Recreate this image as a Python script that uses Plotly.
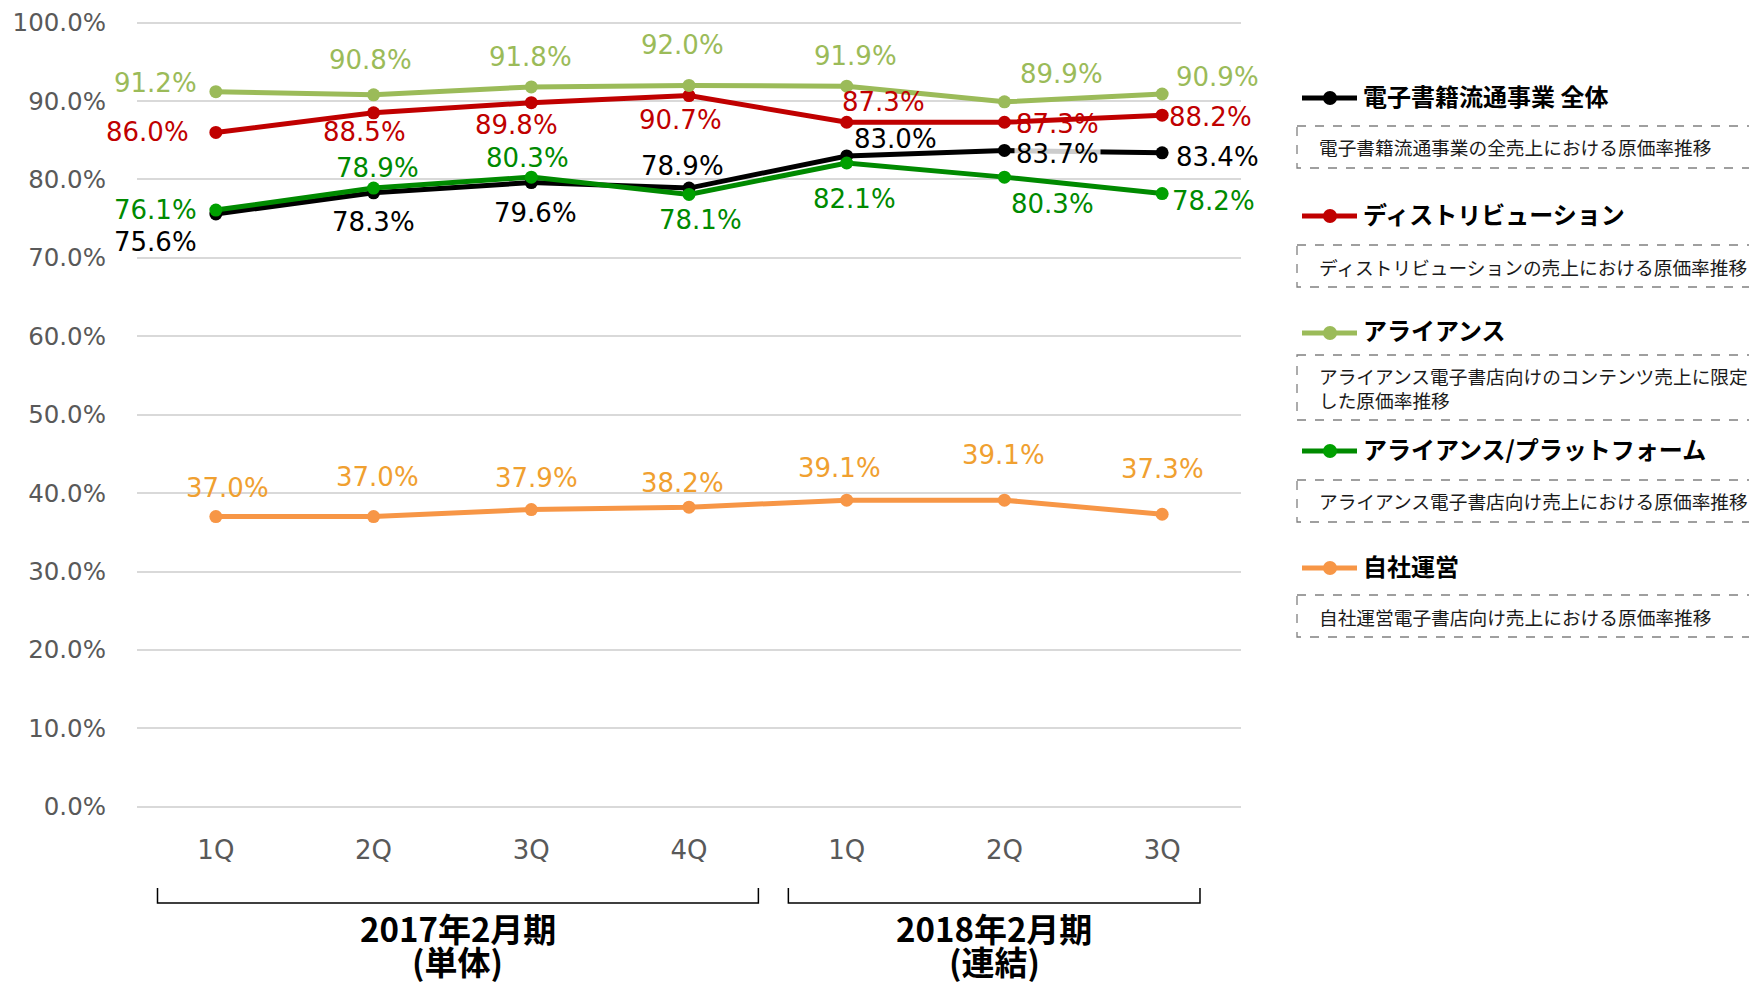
import plotly.graph_objects as go

# 四半期ごとの原価率推移 (%)
quarters = ["1Q", "2Q", "3Q", "4Q", "1Q", "2Q", "3Q"]
total = [75.6, 78.3, 79.6, 78.9, 83.0, 83.7, 83.4]
distribution = [86.0, 88.5, 89.8, 90.7, 87.3, 87.3, 88.2]
alliance = [91.2, 90.8, 91.8, 92.0, 91.9, 89.9, 90.9]
platform = [76.1, 78.9, 80.3, 78.1, 82.1, 80.3, 78.2]
own = [37.0, 37.0, 37.9, 38.2, 39.1, 39.1, 37.3]
y_ticks = [0, 10, 20, 30, 40, 50, 60, 70, 80, 90, 100]

series_names = ["電子書籍流通事業 全体", "ディストリビューション", "アライアンス",
                "アライアンス/プラットフォーム", "自社運営"]
series_notes = [
    "電子書籍流通事業の全売上における原価率推移",
    "ディストリビューションの売上における原価率推移",
    "アライアンス電子書店向けのコンテンツ売上に限定<br>した原価率推移",
    "アライアンス電子書店向け売上における原価率推移",
    "自社運営電子書店向け売上における原価率推移",
]
groups = ["2017年2月期", "2018年2月期"]
group_subs = ["(単体)", "(連結)"]
group_members = [[0, 1, 2, 3], [4, 5, 6]]

x = list(range(len(quarters)))
values = [total, distribution, alliance, platform, own]

line_colors = ["#000000", "#C00000", "#9BBB59", "#008A00", "#F79646"]
marker_colors = ["#000000", "#C00000", "#9BBB59", "#00A000", "#F79646"]
label_colors = ["#000000", "#C00000", "#9BBB59", "#008A00", "#F0A030"]

# label offsets in pixels (dx right, dy down) for each point
label_offsets = [
    [(-60, 28), (0, 29), (4, 30), (-7, -22), (49, -17), (53, 4), (55, 4)],
    [(-68, 0), (-9, 19), (-15, 22), (-9, 24), (37, -20), (53, 2), (48, 2)],
    [(-60, -9), (-3, -35), (-1, -30), (-7, -40), (9, -30), (57, -28), (55, -17)],
    [(-60, 0), (4, -20), (-4, -19), (11, 26), (8, 36), (48, 27), (51, 7)],
    [(12, -29), (4, -40), (5, -32), (-7, -24), (-7, -32), (-1, -45), (0, -45)],
]

# page has an 8px body margin, so screen px = figure px + 8
OFF = 8
W, H = 1757 - OFF, 983 - OFF
L, R, T, B = 137 - OFF, 1241 - OFF, 20 - OFF, 809 - OFF


def px_x(p):
    return (p - OFF - L) / (R - L)


def px_y(p):
    return (B - (p - OFF)) / (B - T)


fig = go.Figure()

for name, vals, lc, mc in zip(series_names, values, line_colors, marker_colors):
    fig.add_trace(go.Scatter(
        x=x, y=vals, mode="lines+markers", name=name,
        line=dict(color=lc, width=5),
        marker=dict(color=mc, size=13),
        showlegend=False, hoverinfo="skip",
    ))

annotations = []
for s, vals in enumerate(values):
    for i, v in enumerate(vals):
        dx, dy = label_offsets[s][i]
        bg = "rgba(255,255,255,0.8)" if (s == 0 and i == 5) else None
        annotations.append(dict(
            x=x[i], y=v, text=f"{v:.1f}%", showarrow=False,
            xshift=dx, yshift=-dy, xanchor="center", yanchor="middle",
            bgcolor=bg,
            font=dict(family="DejaVu Sans", size=26, color=label_colors[s]),
        ))

shapes = []

# group brackets under the x axis
bracket_pad = [(-0.37, 0.44), (-0.37, 0.24)]
for g, members in enumerate(group_members):
    x0 = members[0] + bracket_pad[g][0]
    x1 = members[-1] + bracket_pad[g][1]
    y_top, y_bot = px_y(888), px_y(903)
    shapes.append(dict(
        type="path", xref="x", yref="paper",
        path=f"M {x0},{y_top} L {x0},{y_bot} L {x1},{y_bot} L {x1},{y_top}",
        line=dict(color="#000000", width=1.5),
    ))
    xc = (x0 + x1) / 2
    annotations.append(dict(
        x=xc, y=px_y(928), xref="x", yref="paper", text=groups[g],
        showarrow=False, xanchor="center", yanchor="middle",
        font=dict(family="Noto Sans CJK JP", size=33, color="#000000", weight="bold"),
    ))
    annotations.append(dict(
        x=xc, y=px_y(961), xref="x", yref="paper", text=group_subs[g],
        showarrow=False, xanchor="center", yanchor="middle",
        font=dict(family="Noto Sans CJK JP", size=33, color="#000000", weight="bold"),
    ))

# custom legend on the right
title_y = [95, 213, 330, 448, 565]
box_y = [(126, 168), (245, 287), (355, 420), (480, 522), (595, 637)]
for k, name in enumerate(series_names):
    yc = title_y[k]
    shapes.append(dict(
        type="line", xref="paper", yref="paper",
        x0=px_x(1302), x1=px_x(1357), y0=px_y(yc + 3), y1=px_y(yc + 3),
        line=dict(color=line_colors[k], width=5),
    ))
    shapes.append(dict(
        type="circle", xref="paper", yref="paper",
        xsizemode="pixel", ysizemode="pixel",
        xanchor=px_x(1330), yanchor=px_y(yc + 3),
        x0=-7, x1=7, y0=-7, y1=7,
        fillcolor=marker_colors[k], line=dict(width=0),
    ))
    annotations.append(dict(
        x=px_x(1361), y=px_y(yc), xref="paper", yref="paper", text=name,
        showarrow=False, xanchor="left", yanchor="middle",
        font=dict(family="Noto Sans CJK JP", size=24, color="#000000", weight="bold"),
    ))
    y0, y1 = box_y[k]
    shapes.append(dict(
        type="rect", xref="paper", yref="paper",
        x0=px_x(1297), x1=px_x(1800), y0=px_y(y0), y1=px_y(y1),
        line=dict(color="#808080", width=1.3, dash="dash"),
    ))
    annotations.append(dict(
        x=px_x(1317), y=px_y((y0 + y1) / 2), xref="paper", yref="paper",
        text=series_notes[k], align="left",
        showarrow=False, xanchor="left", yanchor="middle",
        font=dict(family="Noto Sans CJK JP", size=18.7, color="#1a1a1a"),
    ))

fig.update_layout(
    width=W, height=H,
    margin=dict(l=L, r=W - R, t=T, b=H - B, autoexpand=False),
    plot_bgcolor="white", paper_bgcolor="white",
    annotations=annotations, shapes=shapes,
    xaxis=dict(
        range=[-0.5, len(quarters) - 0.5], tickvals=x, ticktext=quarters,
        showgrid=False, zeroline=False, showline=False, automargin=False,
        ticklabelstandoff=23,
        tickfont=dict(family="DejaVu Sans", size=26, color="#595959"),
    ),
    yaxis=dict(
        range=[-0.29, 100.34], tickvals=y_ticks,
        ticktext=[f"{v:.1f}%" for v in y_ticks],
        showgrid=True, gridcolor="#D9D9D9", gridwidth=2,
        zeroline=False, showline=False, automargin=False,
        ticklabelstandoff=30,
        tickfont=dict(family="DejaVu Sans", size=24.5, color="#595959"),
    ),
)

fig.write_html("out.html")
